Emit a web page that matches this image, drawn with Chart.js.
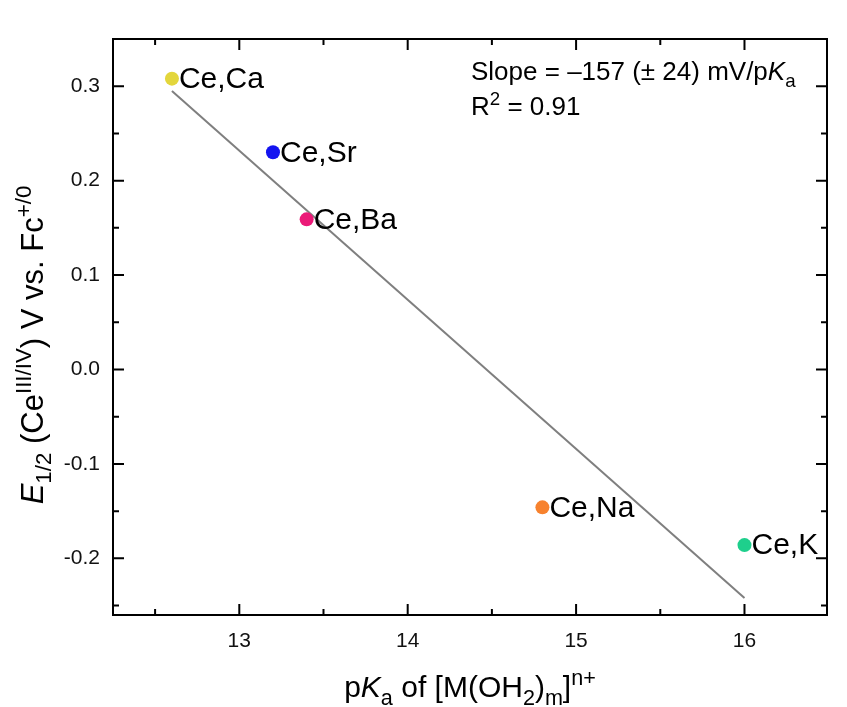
<!DOCTYPE html>
<html>
<head>
<meta charset="utf-8">
<script src="https://cdn.jsdelivr.net/npm/chart.js@4.4.1/dist/chart.umd.min.js"></script>
<style>
  html, body { margin: 0; padding: 0; background: #ffffff; }
  #wrap { width: 847px; height: 707px; overflow: hidden; }
</style>
</head>
<body>
<div id="wrap"><canvas id="c" width="847" height="707"></canvas></div>
<script>
// Complexes and their measured values
const labels = ['Ce,Ca', 'Ce,Sr', 'Ce,Ba', 'Ce,Na', 'Ce,K'];
const pKa = [12.6, 13.2, 13.4, 14.8, 16.0];
const E12 = [0.308, 0.230, 0.159, -0.146, -0.186];
const pointColors = ['#e3d63c', '#1414f0', '#eb1a78', '#f7822e', '#1ecf8c'];

// Linear fit drawn between the first and last pKa
const fitX = [12.6, 16.0];
const fitY = [0.295, -0.242];

// Axis ranges and ticks
const xRange = [12.25, 16.49];
const yRange = [-0.260, 0.350];
const xTicks = [13, 14, 15, 16];
const xMinor = [12.5, 13.5, 14.5, 15.5];
const yTicks = [-0.2, -0.1, 0.0, 0.1, 0.2, 0.3];
const yMinor = [-0.25, -0.15, -0.05, 0.05, 0.15, 0.25];

const FONT = '"Liberation Sans", Arial, sans-serif';

// Draw a run of text pieces with italic / subscript / superscript parts
function drawRich(ctx, runs, x, y, size, align) {
  const parts = runs.map(r => {
    const s = (r.sub || r.sup) ? size * 0.72 : size;
    const font = (r.i ? 'italic ' : '') + s + 'px ' + FONT;
    ctx.font = font;
    return { r, font, w: ctx.measureText(r.t).width };
  });
  const total = parts.reduce((a, p) => a + p.w, 0);
  let cx = align === 'center' ? x - total / 2 : x;
  ctx.textAlign = 'left';
  ctx.textBaseline = 'alphabetic';
  for (const p of parts) {
    ctx.font = p.font;
    let dy = 0;
    if (p.r.sub) dy = size * 0.26;
    if (p.r.sup) dy = -size * 0.40;
    ctx.fillText(p.r.t, cx, y + dy);
    cx += p.w;
  }
}

const framePlugin = {
  id: 'frame',
  afterDatasetsDraw(chart) {
    const { ctx, chartArea: a, scales } = chart;
    const xs = scales.x, ys = scales.y;
    ctx.save();
    ctx.strokeStyle = '#000';
    ctx.lineWidth = 2;
    ctx.lineCap = 'butt';
    ctx.beginPath();
    const tick = (px, len, vertical) => {
      if (vertical) {
        ctx.moveTo(px, a.bottom); ctx.lineTo(px, a.bottom - len);
        ctx.moveTo(px, a.top); ctx.lineTo(px, a.top + len);
      } else {
        ctx.moveTo(a.left, px); ctx.lineTo(a.left + len, px);
        ctx.moveTo(a.right, px); ctx.lineTo(a.right - len, px);
      }
    };
    xTicks.forEach(v => tick(xs.getPixelForValue(v), 11, true));
    xMinor.forEach(v => tick(xs.getPixelForValue(v), 6, true));
    yTicks.forEach(v => tick(ys.getPixelForValue(v), 11, false));
    yMinor.forEach(v => tick(ys.getPixelForValue(v), 6, false));
    ctx.stroke();
    ctx.strokeRect(a.left, a.top, a.right - a.left, a.bottom - a.top);

    // Point labels
    ctx.fillStyle = '#000';
    ctx.font = '30px ' + FONT;
    ctx.textAlign = 'left';
    ctx.textBaseline = 'middle';
    labels.forEach((lab, i) => {
      const px = xs.getPixelForValue(pKa[i]);
      const py = ys.getPixelForValue(E12[i]);
      ctx.fillText(lab, px + 7, py + 1);
    });

    // Fit statistics
    drawRich(ctx, [{ t: 'Slope = \u2013157 (\u00b1 24) mV/p' }, { t: 'K', i: true }, { t: 'a', sub: true }], 471, 80, 26, 'left');
    drawRich(ctx, [{ t: 'R' }, { t: '2', sup: true }, { t: ' = 0.91' }], 471, 115, 26, 'left');

    // Axis titles
    drawRich(ctx, [
      { t: 'p' }, { t: 'K', i: true }, { t: 'a', sub: true },
      { t: ' of [M(OH' }, { t: '2', sub: true }, { t: ')' }, { t: 'm', sub: true },
      { t: ']' }, { t: 'n+', sup: true }
    ], 470, 697, 30, 'center');

    ctx.save();
    ctx.translate(43, 345);
    ctx.rotate(-Math.PI / 2);
    drawRich(ctx, [
      { t: 'E', i: true }, { t: '1/2', sub: true },
      { t: ' (Ce' }, { t: 'III/IV', sup: true },
      { t: ') V vs. Fc' }, { t: '+/0', sup: true }
    ], 0, 0, 31, 'center');
    ctx.restore();
    ctx.restore();
  }
};

const points = pKa.map((x, i) => ({ x, y: E12[i] }));
const fitPoints = fitX.map((x, i) => ({ x, y: fitY[i] }));

new Chart(document.getElementById('c'), {
  type: 'scatter',
  data: {
    datasets: [
      {
        label: 'E1/2',
        data: points,
        pointBackgroundColor: pointColors,
        pointBorderColor: pointColors,
        pointRadius: 7,
        pointBorderWidth: 0,
        showLine: false
      },
      {
        label: 'fit',
        type: 'line',
        data: fitPoints,
        borderColor: '#7f7f7f',
        borderWidth: 2,
        pointRadius: 0,
        fill: false,
        tension: 0
      }
    ]
  },
  options: {
    responsive: false,
    animation: false,
    devicePixelRatio: 1,
    layout: { padding: { top: 39, right: 20, left: 0, bottom: 0 } },
    plugins: { legend: { display: false }, tooltip: { enabled: false } },
    scales: {
      x: {
        type: 'linear',
        min: xRange[0], max: xRange[1],
        grid: { display: false, drawTicks: false },
        border: { display: false },
        afterBuildTicks: s => { s.ticks = xTicks.map(v => ({ value: v })); },
        afterFit: s => { s.height = 707 - 615; },
        ticks: {
          padding: 14,
          color: '#111',
          font: { family: FONT, size: 21 },
          callback: v => String(v)
        }
      },
      y: {
        type: 'linear',
        min: yRange[0], max: yRange[1],
        grid: { display: false, drawTicks: false },
        border: { display: false },
        afterBuildTicks: s => { s.ticks = yTicks.map(v => ({ value: v })); },
        afterFit: s => { s.width = 113; },
        ticks: {
          padding: 13,
          color: '#111',
          font: { family: FONT, size: 21 },
          callback: v => (Math.abs(v) < 1e-9 ? 0 : v).toFixed(1)
        }
      }
    }
  },
  plugins: [framePlugin]
});
</script>
</body>
</html>
